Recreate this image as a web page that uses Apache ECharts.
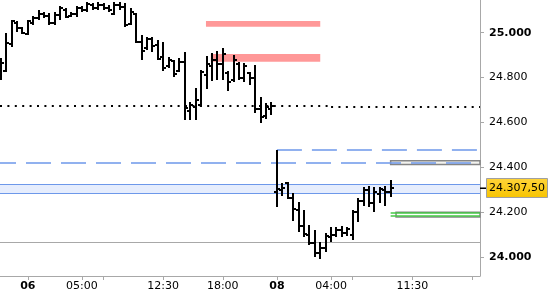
<!DOCTYPE html>
<html><head><meta charset="utf-8">
<script src="https://cdn.jsdelivr.net/npm/echarts@6/dist/echarts.min.js"></script>
<style>html,body{margin:0;padding:0;background:#fff}#c{width:550px;height:300px}</style>
</head><body><div id="c"></div>
<script>
// ---- data ----
const opens = [
  24800,24830,24950,25045,25020,24995,25045,25065,25085,25075,
  25045,25080,25100,25075,25085,25110,25100,25125,25110,25125,
  25110,25085,25125,25115,25040,25085,24960,24930,24970,24945,
  24890,24850,24875,24830,24870,24650,24670,24680,24810,24850,
  24880,24860,24820,24790,24860,24800,24820,24800,24660,24630,
  24660,24290,24300,24330,24265,24210,24140,24100,24065,24020,
  24040,24090,24100,24120,24110,24100,24200,24250,24300,24240,
  24280,24300,24290];
const highs = [
  24886,24997,25057,25052,25027,25057,25074,25101,25094,25086,
  25094,25119,25109,25094,25119,25119,25138,25133,25138,25131,
  25123,25138,25138,25131,25109,25086,24990,24982,24982,24968,
  24960,24893,24878,24886,24915,24693,24752,24834,24896,24908,
  24920,24931,24831,24901,24871,24864,24826,24856,24715,24686,
  24693,24478,24329,24337,24285,24247,24211,24144,24122,24069,
  24107,24134,24136,24139,24136,24211,24263,24314,24317,24314,
  24314,24317,24344];
const lows = [
  24789,24826,24938,25004,24993,24990,25034,25057,25064,25034,
  25034,25057,25064,25071,25071,25094,25094,25101,25101,25101,
  25094,25079,25101,25027,25034,24956,24878,24923,24915,24878,
  24831,24841,24804,24824,24611,24611,24611,24671,24748,24786,
  24789,24789,24742,24779,24789,24782,24767,24641,24599,24614,
  24634,24223,24273,24258,24163,24114,24089,24055,24000,23991,
  24025,24069,24092,24092,24095,24077,24159,24228,24225,24203,
  24243,24230,24267];
const closes = [
  24865,24956,25050,25020,25000,25050,25065,25085,25075,25045,
  25080,25110,25070,25085,25110,25100,25130,25110,25125,25110,
  25100,25125,25115,25035,25090,24960,24920,24970,24940,24885,
  24845,24880,24815,24870,24665,24680,24700,24825,24860,24880,
  24860,24905,24780,24880,24800,24850,24800,24660,24625,24670,
  24675,24305,24310,24265,24215,24140,24105,24065,24020,24040,
  24095,24100,24120,24110,24125,24200,24250,24300,24240,24290,
  24305,24290,24307.5];

const timeTickIdx   = [5, 15, 19, 30, 41, 51, 61, 65, 76, 87];
const timeTickLabel = ['06','05:00','','12:30','18:00','08','04:00','','11:30',''];
const boldTimeLabels = ['06','08'];
const priceTicks = [24000, 24200, 24400, 24600, 24800, 25000];
const boldPriceTicks = [24000, 25000];

const X_MIN = -0.13, X_MAX = 88.5;
const Y_MIN = 23916.7, Y_MAX = 25145.6;

const lastPrice = 24307.5;
const lastPriceText = '24.307,50';
const sessionStartIdx = 51;
const sessionHigh = 24478;
const dottedLevel1 = 24675, dottedLevel2 = 24669, dottedSplitIdx = 61;
const blueDashLevel = 24423;
const greyLevel = 24067;
const blueBand = [24323, 24286];
const pinkZones = [
  {from: 37.9, to: 59, hi: 25052, lo: 25027},
  {from: 38.8, to: 59, hi: 24905, lo: 24871}
];
const upperBox = {from: 72, hi: 24430, lo: 24413};
const lowerBox = {from: 73, hi: 24200.5, lo: 24179};
const greenLines = {from: 72, levels: [24197, 24183]};

// ---- chart ----
const ohlc = opens.map((o, i) => [i, o, highs[i], lows[i], closes[i]]);
const FONT = 'DejaVu Sans';

function fmtPrice(v) {
  const th = Math.floor(v / 1000), r = Math.round(v - th * 1000);
  const s = th + '.' + String(r).padStart(3, '0');
  return boldPriceTicks.includes(v) ? '{b|' + s + '}' : s;
}
function fmtTime(v) {
  const k = timeTickIdx.indexOf(Math.round(v));
  if (k < 0) return '';
  const s = timeTickLabel[k];
  if (!s) return '';
  return boldTimeLabels.includes(s) ? '{b|' + s + '}' : s;
}

function renderOHLC(params, api) {
  const i = api.value(0);
  const pO = api.coord([i, api.value(1)]);
  const pH = api.coord([i, api.value(2)]);
  const pL = api.coord([i, api.value(3)]);
  const pC = api.coord([i, api.value(4)]);
  const x = Math.round(pH[0]);
  const yH = Math.round(pH[1]), yL = Math.round(pL[1]);
  return {type: 'group', children: [
    {type: 'rect', shape: {x: x - 1, y: yH, width: 2, height: Math.max(2, yL - yH)}, style: {fill: '#000'}},
    {type: 'rect', shape: {x: x - 3, y: Math.round(pO[1]) - 1, width: 2, height: 2}, style: {fill: '#000'}},
    {type: 'rect', shape: {x: x + 1, y: Math.round(pC[1]) - 1, width: 2, height: 2}, style: {fill: '#000'}}
  ]};
}

const chart = echarts.init(document.getElementById('c'), null, {renderer: 'canvas'});
const noLabel = {show: false};
const BLUE = '#6d98ea';
const areaData = [];
pinkZones.forEach(z => areaData.push([
  {coord: [z.from, z.hi], itemStyle: {color: '#ff9898', borderWidth: 0}},
  {coord: [z.to, z.lo]}
]));
areaData.push([
  {yAxis: blueBand[0], itemStyle: {color: '#e6edfd', borderWidth: 0}},
  {yAxis: blueBand[1]}
]);
areaData.push([
  {coord: [upperBox.from, upperBox.hi], itemStyle: {color: '#f3f3ef', borderColor: '#858585', borderWidth: 1.5}},
  {coord: [X_MAX, upperBox.lo]}
]);
areaData.push([
  {coord: [lowerBox.from, lowerBox.hi], itemStyle: {color: '#ffffff', borderColor: '#858585', borderWidth: 1.5}},
  {coord: [X_MAX, lowerBox.lo]}
]);

const lineData = [
  [{coord: [X_MIN, dottedLevel1], lineStyle: {color: '#000', width: 2, type: [2, 5.4]}}, {coord: [dottedSplitIdx, dottedLevel1]}],
  [{coord: [dottedSplitIdx, dottedLevel2], lineStyle: {color: '#000', width: 2, type: [2, 5.4]}}, {coord: [X_MAX, dottedLevel2]}],
  [{coord: [X_MIN, greyLevel], lineStyle: {color: '#a8a8a8', width: 1, type: 'solid'}}, {coord: [X_MAX, greyLevel]}],
  [{coord: [X_MIN, blueBand[0]], lineStyle: {color: BLUE, width: 1, type: 'solid'}}, {coord: [X_MAX, blueBand[0]]}],
  [{coord: [X_MIN, blueBand[1]], lineStyle: {color: BLUE, width: 1, type: 'solid'}}, {coord: [X_MAX, blueBand[1]]}],
  [{coord: [X_MIN, blueDashLevel], lineStyle: {color: BLUE, width: 1.5, type: [25, 10], dashOffset: 9}}, {coord: [X_MAX, blueDashLevel]}],
  [{coord: [sessionStartIdx, sessionHigh], lineStyle: {color: BLUE, width: 1.5, type: [25, 10]}}, {coord: [X_MAX, sessionHigh]}]
];
greenLines.levels.forEach(v => lineData.push([
  {coord: [greenLines.from, v], lineStyle: {color: '#44c844', width: 1.5, type: 'solid'}},
  {coord: [X_MAX, v]}
]));

chart.setOption({
  animation: false,
  backgroundColor: '#fff',
  grid: {left: 0, right: 70, top: 0, bottom: 24, outerBoundsMode: 'none', containLabel: false},
  xAxis: {
    type: 'value', min: X_MIN, max: X_MAX,
    splitLine: {show: false},
    axisLine: {show: true, onZero: false, lineStyle: {color: '#a8a8a8', width: 1}},
    axisTick: {show: true, customValues: timeTickIdx, length: 4, lineStyle: {color: '#a8a8a8'}},
    axisLabel: {
      customValues: timeTickIdx, formatter: fmtTime, margin: 5,
      fontFamily: FONT, fontSize: 11, color: '#000',
      rich: {b: {fontFamily: FONT, fontSize: 11, fontWeight: 'bold', color: '#000'}}
    }
  },
  yAxis: {
    type: 'value', position: 'right', min: Y_MIN, max: Y_MAX,
    splitLine: {show: false},
    axisLine: {show: true, onZero: false, lineStyle: {color: '#a8a8a8', width: 1}},
    axisTick: {show: true, customValues: priceTicks, length: 4, lineStyle: {color: '#a8a8a8'}},
    axisLabel: {
      customValues: priceTicks, formatter: fmtPrice, margin: 9,
      fontFamily: FONT, fontSize: 11, color: '#000',
      rich: {b: {fontFamily: FONT, fontSize: 11, fontWeight: 'bold', color: '#000'}}
    }
  },
  series: [
    {
      type: 'line', data: [], z: 1, silent: true,
      markArea: {silent: true, label: noLabel, data: areaData},
      markLine: {silent: true, symbol: ['none', 'none'], label: noLabel, data: lineData}
    },
    {
      type: 'custom', z: 5, renderItem: renderOHLC, data: ohlc,
      encode: {x: 0, y: [1, 2, 3, 4]}, clip: false, silent: true
    }
  ]
});

const py = chart.convertToPixel({yAxisIndex: 0}, lastPrice);
const px = chart.convertToPixel({xAxisIndex: 0}, X_MAX);
chart.setOption({
  graphic: [
    {type: 'line', shape: {x1: px, y1: py, x2: px + 6, y2: py}, style: {stroke: '#000', lineWidth: 1.5}, z: 100},
    {type: 'rect', shape: {x: px + 6.5, y: Math.round(py) - 9.5, width: 61, height: 19},
     style: {fill: new echarts.graphic.LinearGradient(0, 0, 0, 1, [{offset: 0, color: '#ffd43a'}, {offset: 1, color: '#f7c400'}]), stroke: '#a0a0a0', lineWidth: 1}, z: 100},
    {type: 'text', x: px + 9, y: py, style: {text: lastPriceText, fill: '#000', font: '11px "DejaVu Sans"', verticalAlign: 'middle', align: 'left'}, z: 101}
  ]
});
</script>
</body></html>
